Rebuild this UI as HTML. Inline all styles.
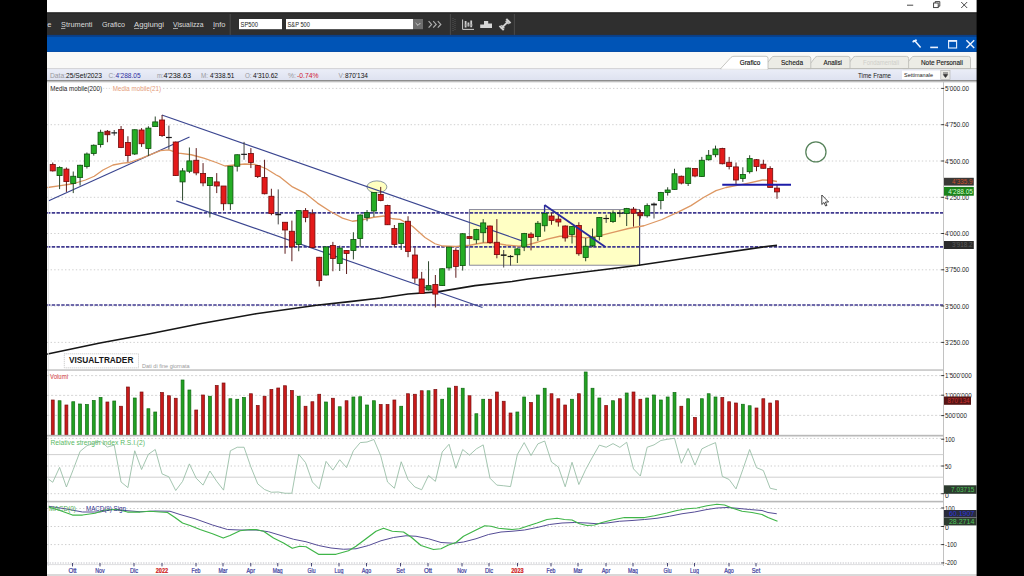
<!DOCTYPE html><html><head><meta charset="utf-8"><title>S&amp;P 500 - Visual Trader</title>
<style>html,body{margin:0;padding:0;background:#fff;}body{width:1024px;height:576px;overflow:hidden}svg{display:block}text{font-family:"Liberation Sans", sans-serif;white-space:pre}</style></head><body>
<svg width="1024" height="576" viewBox="0 0 1024 576">
<rect x="0" y="0" width="1024" height="576" fill="#ffffff"/>
<rect x="47" y="0" width="930" height="12.5" fill="#ffffff"/>
<line x1="907" y1="5.2" x2="913.2" y2="5.2" stroke="#333" stroke-width="0.9"/>
<rect x="933.6" y="3" width="4.6" height="4.6" fill="none" stroke="#333" stroke-width="0.9"/>
<path d="M935.2 3 V1.6 H939.8 V6.2 H938.2" fill="none" stroke="#333" stroke-width="0.9"/>
<path d="M961.2 2 L967.2 8 M967.2 2 L961.2 8" fill="none" stroke="#333" stroke-width="0.9"/>
<rect x="47" y="12.5" width="930" height="22.6" fill="#2f2f2f"/>
<rect x="47" y="12.4" width="930" height="0.9" fill="#1c1c1c"/>
<text x="47.3" y="27.38" font-size="8.0" fill="#dcdcdc" textLength="4.2" lengthAdjust="spacingAndGlyphs">e</text>
<text x="61" y="27.38" font-size="8.0" fill="#dcdcdc" textLength="31.5" lengthAdjust="spacingAndGlyphs">Strumenti</text>
<line x1="61" y1="28.6" x2="65.4" y2="28.4" stroke="#dcdcdc" stroke-width="0.7"/>
<text x="102" y="27.38" font-size="8.0" fill="#dcdcdc" textLength="23" lengthAdjust="spacingAndGlyphs">Grafico</text>
<text x="134" y="27.38" font-size="8.0" fill="#dcdcdc" textLength="30" lengthAdjust="spacingAndGlyphs">Aggiungi</text>
<line x1="134" y1="28.6" x2="139.2" y2="28.4" stroke="#dcdcdc" stroke-width="0.7"/>
<text x="173" y="27.38" font-size="8.0" fill="#dcdcdc" textLength="30.5" lengthAdjust="spacingAndGlyphs">Visualizza</text>
<line x1="173" y1="28.6" x2="178" y2="28.4" stroke="#dcdcdc" stroke-width="0.7"/>
<text x="213" y="27.38" font-size="8.0" fill="#dcdcdc" textLength="12.5" lengthAdjust="spacingAndGlyphs">Info</text>
<line x1="213" y1="28.6" x2="214.8" y2="28.4" stroke="#dcdcdc" stroke-width="0.7"/>
<line x1="230.2" y1="14" x2="230.2" y2="35" stroke="#4a4a4a" stroke-width="1"/>
<rect x="239" y="19" width="43" height="10.2" fill="#ffffff"/>
<text x="240.5" y="26.65" font-size="6.8" fill="#222" textLength="17.5" lengthAdjust="spacingAndGlyphs">SP500</text>
<rect x="286" y="19" width="127" height="10.2" fill="#ffffff"/>
<text x="287.5" y="26.65" font-size="6.8" fill="#222" textLength="22.5" lengthAdjust="spacingAndGlyphs">S&amp;P 500</text>
<rect x="413" y="19" width="10" height="10.2" fill="#6e6e6e"/>
<path d="M415.6 23 L418 25.4 L420.4 23" fill="none" stroke="#cfcfcf" stroke-width="1"/>
<path d="M428.6 21.2 L431.6 24.4 L428.6 27.6 M433.2 21.2 L436.2 24.4 L433.2 27.6 M437.8 21.2 L440.8 24.4 L437.8 27.6" fill="none" stroke="#adadad" stroke-width="1.2"/>
<line x1="450.4" y1="14" x2="450.4" y2="35" stroke="#4a4a4a" stroke-width="1"/>
<line x1="453" y1="18" x2="453" y2="31" stroke="#555" stroke-width="1" stroke-dasharray="1 1"/>
<line x1="455" y1="19" x2="455" y2="31" stroke="#555" stroke-width="1" stroke-dasharray="1 1"/>
<path d="M462.6 19.5 V29.4 H474" fill="none" stroke="#cfcfcf" stroke-width="1"/>
<path d="M465.6 21 V27.6 M468.4 22.4 V26.6 M471.2 20.6 V27.2" fill="none" stroke="#cfcfcf" stroke-width="1.8"/>
<path d="M464.4 25 H473" stroke="#8a8a8a" stroke-width="0.8"/>
<path d="M480.2 28 V24.4 H484 V21 H488.2 V23.4 H492 V28 Z" fill="#d6d6d6"/>
<g transform="translate(505 24.6) scale(0.86) rotate(-45) translate(-505 -24.5)" fill="#d2d2d2"><rect x="498.4" y="23.4" width="13.2" height="2.2"/><rect x="498.2" y="21" width="2.4" height="7"/><rect x="509.4" y="21" width="2.4" height="7"/><rect x="500.8" y="22" width="1.4" height="5"/><rect x="507.8" y="22" width="1.4" height="5"/></g>
<line x1="514.4" y1="14" x2="514.4" y2="35" stroke="#4a4a4a" stroke-width="1"/>
<rect x="47" y="35" width="930" height="17" fill="#0054b6"/>
<rect x="47" y="34.9" width="930" height="1.9" fill="#0b3f86"/>
<rect x="47" y="51.2" width="930" height="0.8" fill="#0a4ea6"/>
<path d="M913 41.2 L916.4 40.2 M914.6 40.6 L920.6 47.6" fill="none" stroke="#eaf2ff" stroke-width="1.5"/>
<path d="M912.6 42 L916.6 40" fill="none" stroke="#eaf2ff" stroke-width="1.6"/>
<line x1="930.2" y1="47.4" x2="938" y2="47.4" stroke="#eaf2ff" stroke-width="1.6"/>
<rect x="948.6" y="40.6" width="8" height="7.4" fill="none" stroke="#eaf2ff" stroke-width="1.1"/>
<line x1="948.6" y1="41" x2="956.6" y2="41" stroke="#eaf2ff" stroke-width="1.6"/>
<path d="M966.4 40.2 L974.2 48 M974.2 40.2 L966.4 48" fill="none" stroke="#eaf2ff" stroke-width="1.4"/>
<rect x="47" y="52" width="930" height="16.8" fill="#f9f9f7"/>
<defs><linearGradient id="lg" x1="0" y1="0" x2="0" y2="1"><stop offset="0" stop-color="#ebeef8"/><stop offset="1" stop-color="#dee2f0"/></linearGradient></defs>
<rect x="47" y="68.6" width="930" height="11.6" fill="url(#lg)"/>
<line x1="47" y1="68.6" x2="734" y2="68.6" stroke="#c8c8cc" stroke-width="0.8"/>
<path d="M903 68.6 L911.5 57.6 Q912.2 56.4 914 56.4 H968.5 Q970.5 56.4 970.5 58.4 V68.6 Z" fill="#ecece6" stroke="#b9b9b4" stroke-width="0.8"/>
<path d="M844.5 68.6 L853.0 57.6 Q853.7 56.4 855.5 56.4 H906.6 Q908.6 56.4 908.6 58.4 V68.6 Z" fill="#ecece6" stroke="#b9b9b4" stroke-width="0.8"/>
<path d="M806.5 68.6 L815.0 57.6 Q815.7 56.4 817.5 56.4 H848 Q850 56.4 850 58.4 V68.6 Z" fill="#ecece6" stroke="#b9b9b4" stroke-width="0.8"/>
<path d="M763 68.6 L771.5 57.6 Q772.2 56.4 774 56.4 H808.8 Q810.8 56.4 810.8 58.4 V68.6 Z" fill="#ecece6" stroke="#b9b9b4" stroke-width="0.8"/>
<line x1="768" y1="68.6" x2="977" y2="68.6" stroke="#b9b9b4" stroke-width="0.8"/>
<path d="M720.5 68.8 L731 57.4 Q732 56.3 734 56.3 H766 Q768 56.3 768 58.3 V69.2 Z" fill="#ffffff" stroke="#b9b9b4" stroke-width="0.8"/>
<rect x="721.5" y="68.2" width="46" height="1.2" fill="#ffffff"/>
<text x="739.8" y="65.36" font-size="7.4" fill="#111" textLength="20.5" lengthAdjust="spacingAndGlyphs" stroke="#111" stroke-width="0.18">Grafico</text>
<text x="781" y="65.36" font-size="7.4" fill="#1c1c1c" textLength="22" lengthAdjust="spacingAndGlyphs" stroke="#1c1c1c" stroke-width="0.15">Scheda</text>
<text x="823.5" y="65.36" font-size="7.4" fill="#1c1c1c" textLength="18.5" lengthAdjust="spacingAndGlyphs" stroke="#1c1c1c" stroke-width="0.15">Analisi</text>
<text x="863" y="65.36" font-size="7.4" fill="#cfcfca" textLength="36" lengthAdjust="spacingAndGlyphs">Fondamentali</text>
<text x="921" y="65.36" font-size="7.4" fill="#1c1c1c" textLength="41.8" lengthAdjust="spacingAndGlyphs" stroke="#1c1c1c" stroke-width="0.15">Note Personali</text>
<text x="858" y="77.86" font-size="7.4" fill="#222" textLength="33" lengthAdjust="spacingAndGlyphs">Time Frame</text>
<rect x="902" y="70.6" width="38.6" height="8.8" fill="#ffffff"/>
<text x="904" y="77.09" font-size="5.8" fill="#222" textLength="29" lengthAdjust="spacingAndGlyphs">Settimanale</text>
<rect x="940.8" y="70.6" width="9.2" height="8.8" fill="#e9e9e4" stroke="#b0b0ac" stroke-width="0.6"/>
<path d="M943 73 H948 M943.4 74.6 L945.5 77.4 L947.6 74.6 Z" fill="#333" stroke="#333" stroke-width="0.8"/>
<text x="50" y="78.03" font-size="7.3" fill="#9a9aa0" textLength="16" lengthAdjust="spacingAndGlyphs">Data:</text>
<text x="66" y="78.03" font-size="7.3" fill="#111" textLength="36" lengthAdjust="spacingAndGlyphs">25/Set/2023</text>
<text x="108.5" y="78.03" font-size="7.3" fill="#9a9aa0" textLength="6.5" lengthAdjust="spacingAndGlyphs">C:</text>
<text x="115.6" y="78.03" font-size="7.3" fill="#2d2da0" textLength="25" lengthAdjust="spacingAndGlyphs">4'288.05</text>
<text x="157" y="78.03" font-size="7.3" fill="#9a9aa0" textLength="6.5" lengthAdjust="spacingAndGlyphs">m:</text>
<text x="163.4" y="78.03" font-size="7.3" fill="#111" textLength="27.6" lengthAdjust="spacingAndGlyphs">4'238.63</text>
<text x="201" y="78.03" font-size="7.3" fill="#9a9aa0" textLength="7" lengthAdjust="spacingAndGlyphs">M:</text>
<text x="210" y="78.03" font-size="7.3" fill="#111" textLength="24.4" lengthAdjust="spacingAndGlyphs">4'338.51</text>
<text x="245" y="78.03" font-size="7.3" fill="#9a9aa0" textLength="6.6" lengthAdjust="spacingAndGlyphs">O:</text>
<text x="253" y="78.03" font-size="7.3" fill="#111" textLength="25" lengthAdjust="spacingAndGlyphs">4'310.62</text>
<text x="288" y="78.03" font-size="7.3" fill="#9a9aa0" textLength="8" lengthAdjust="spacingAndGlyphs">%:</text>
<text x="297" y="78.03" font-size="7.3" fill="#d02030" textLength="21.5" lengthAdjust="spacingAndGlyphs">-0.74%</text>
<text x="338.5" y="78.03" font-size="7.3" fill="#9a9aa0" textLength="6" lengthAdjust="spacingAndGlyphs">V:</text>
<text x="345" y="78.03" font-size="7.3" fill="#111" textLength="23" lengthAdjust="spacingAndGlyphs">870'134</text>
<rect x="47" y="80" width="930" height="1.6" fill="#8e8e8e"/>
<rect x="47" y="81.6" width="930" height="0.8" fill="#c8c8c8"/>
<line x1="163" y1="88.4" x2="941" y2="88.4" stroke="#d0d0d0" stroke-width="1" stroke-dasharray="1.4 2.2"/>
<line x1="47" y1="124.7" x2="941" y2="124.7" stroke="#d0d0d0" stroke-width="1" stroke-dasharray="1.4 2.2"/>
<line x1="47" y1="161" x2="941" y2="161" stroke="#d0d0d0" stroke-width="1" stroke-dasharray="1.4 2.2"/>
<line x1="47" y1="197.3" x2="941" y2="197.3" stroke="#d0d0d0" stroke-width="1" stroke-dasharray="1.4 2.2"/>
<line x1="47" y1="233.5" x2="941" y2="233.5" stroke="#d0d0d0" stroke-width="1" stroke-dasharray="1.4 2.2"/>
<line x1="47" y1="269.8" x2="941" y2="269.8" stroke="#d0d0d0" stroke-width="1" stroke-dasharray="1.4 2.2"/>
<line x1="47" y1="306" x2="941" y2="306" stroke="#d0d0d0" stroke-width="1" stroke-dasharray="1.4 2.2"/>
<line x1="47" y1="342.4" x2="941" y2="342.4" stroke="#d0d0d0" stroke-width="1" stroke-dasharray="1.4 2.2"/>
<rect x="469.4" y="209.6" width="170.2" height="55.6" fill="#ffffc4" stroke="#7c7c92" stroke-width="0.9"/>
<line x1="639.6" y1="209.6" x2="639.6" y2="265.8" stroke="#3c3c66" stroke-width="1.1"/>
<ellipse cx="376.9" cy="186.9" rx="10" ry="6" fill="#ffffc0" stroke="#6f7f8f" stroke-width="0.8"/>
<line x1="47" y1="212.9" x2="943.5" y2="212.9" stroke="#403a90" stroke-width="1.7" stroke-dasharray="3.4 1.35"/>
<line x1="47" y1="246.9" x2="943.5" y2="246.9" stroke="#403a90" stroke-width="1.7" stroke-dasharray="3.4 1.35"/>
<line x1="47" y1="305" x2="943.5" y2="305" stroke="#403a90" stroke-width="1.7" stroke-dasharray="3.4 1.35"/>
<polyline points="47.00,354.20 48.75,353.75 100.00,343.00 150.00,333.75 200.00,323.75 256.00,313.75 318.50,305.00 347.50,301.90 381.00,298.00 408.00,294.00 437.50,291.90 475.00,285.60 512.00,281.50 528.00,279.00 574.50,273.25 637.00,265.50 699.50,256.25 768.00,246.30 777.00,245.40" fill="none" stroke="#161616" stroke-width="1.6" stroke-linejoin="round"/>
<line x1="48.75" y1="200.75" x2="189.5" y2="137" stroke="#3a4590" stroke-width="1.15"/>
<line x1="161.9" y1="115" x2="522" y2="240.9" stroke="#3a4590" stroke-width="1.15"/>
<line x1="176.25" y1="200.9" x2="482.5" y2="307.5" stroke="#3a4590" stroke-width="1.15"/>
<polyline points="47.00,187.50 49.25,187.25 60.50,185.60 73.00,183.75 85.50,180.00 94.25,176.25 103.00,170.00 113.00,165.00 123.00,163.10 129.25,162.50 141.75,158.10 154.25,153.10 160.50,150.60 168.60,149.80 178.75,153.10 191.25,154.75 203.75,158.10 216.25,162.50 225.00,166.00 235.00,165.00 245.00,164.00 255.00,164.40 266.25,168.75 276.25,175.00 280.00,176.90 292.50,186.90 305.00,193.10 317.50,203.10 330.00,211.25 342.50,218.10 352.50,221.25 361.25,220.00 373.75,217.25 383.75,216.00 392.50,218.75 400.00,219.40 412.50,226.25 425.00,237.50 435.00,243.75 442.50,246.00 456.00,246.50 470.00,245.25 477.50,243.75 485.00,242.50 495.00,243.10 506.00,245.00 519.00,246.20 528.50,244.60 538.00,242.00 547.25,239.10 559.75,236.25 572.25,236.25 586.00,237.90 601.00,235.40 616.00,231.60 628.50,228.50 644.00,225.75 662.00,219.50 678.50,211.90 691.00,205.60 703.50,197.50 716.00,190.60 726.00,187.50 736.00,185.60 748.50,183.10 762.50,180.00 770.00,180.25 777.00,181.50" fill="none" stroke="#dd9762" stroke-width="1.3" stroke-linejoin="round"/>
<line x1="52.75" y1="162.5" x2="52.75" y2="171.5" stroke="#5e1c1c" stroke-width="1.0"/>
<rect x="50.20" y="164.40" width="5.1" height="6.50" fill="#e41a1a" stroke="#6e0c0c" stroke-width="0.8"/>
<line x1="59.58" y1="166.25" x2="59.58" y2="189.1" stroke="#2c472c" stroke-width="1.0"/>
<rect x="57.03" y="167.50" width="5.1" height="8.10" fill="#25ad25" stroke="#0c4f0c" stroke-width="0.8"/>
<line x1="66.41" y1="167.5" x2="66.41" y2="191.9" stroke="#5e1c1c" stroke-width="1.0"/>
<rect x="63.86" y="169.10" width="5.1" height="12.50" fill="#e41a1a" stroke="#6e0c0c" stroke-width="0.8"/>
<line x1="73.25" y1="171.5" x2="73.25" y2="193.1" stroke="#2c472c" stroke-width="1.0"/>
<rect x="70.70" y="176.25" width="5.1" height="7.25" fill="#25ad25" stroke="#0c4f0c" stroke-width="0.8"/>
<line x1="80.08" y1="164.75" x2="80.08" y2="185.6" stroke="#2c472c" stroke-width="1.0"/>
<rect x="77.53" y="165.25" width="5.1" height="12.25" fill="#25ad25" stroke="#0c4f0c" stroke-width="0.8"/>
<line x1="86.91" y1="152.5" x2="86.91" y2="168.5" stroke="#2c472c" stroke-width="1.0"/>
<rect x="84.36" y="154.00" width="5.1" height="12.50" fill="#25ad25" stroke="#0c4f0c" stroke-width="0.8"/>
<line x1="93.75" y1="144.4" x2="93.75" y2="155.6" stroke="#2c472c" stroke-width="1.0"/>
<rect x="91.20" y="145.25" width="5.1" height="8.25" fill="#25ad25" stroke="#0c4f0c" stroke-width="0.8"/>
<line x1="100.58" y1="129.75" x2="100.58" y2="147.5" stroke="#2c472c" stroke-width="1.0"/>
<rect x="98.03" y="132.25" width="5.1" height="12.35" fill="#25ad25" stroke="#0c4f0c" stroke-width="0.8"/>
<line x1="107.41" y1="130" x2="107.41" y2="142.25" stroke="#5e1c1c" stroke-width="1.0"/>
<rect x="104.86" y="131.25" width="5.1" height="3.50" fill="#b01818" stroke="#6e0c0c" stroke-width="0.8"/>
<line x1="114.24" y1="130" x2="114.24" y2="135.6" stroke="#444" stroke-width="1.0"/>
<rect x="111.34" y="132.25" width="5.8" height="1.25" fill="#1c1c1c"/>
<line x1="121.07" y1="126" x2="121.07" y2="148.1" stroke="#5e1c1c" stroke-width="1.0"/>
<rect x="118.52" y="129.60" width="5.1" height="17.90" fill="#e41a1a" stroke="#6e0c0c" stroke-width="0.8"/>
<line x1="127.91" y1="136.25" x2="127.91" y2="161.9" stroke="#5e1c1c" stroke-width="1.0"/>
<rect x="125.36" y="142.50" width="5.1" height="13.10" fill="#e41a1a" stroke="#6e0c0c" stroke-width="0.8"/>
<line x1="134.74" y1="129.4" x2="134.74" y2="155" stroke="#2c472c" stroke-width="1.0"/>
<rect x="132.19" y="129.75" width="5.1" height="24.25" fill="#25ad25" stroke="#0c4f0c" stroke-width="0.8"/>
<line x1="141.57" y1="128.1" x2="141.57" y2="146.9" stroke="#5e1c1c" stroke-width="1.0"/>
<rect x="139.02" y="130.00" width="5.1" height="13.75" fill="#e41a1a" stroke="#6e0c0c" stroke-width="0.8"/>
<line x1="148.41" y1="126.25" x2="148.41" y2="156" stroke="#2c472c" stroke-width="1.0"/>
<rect x="145.85" y="128.10" width="5.1" height="20.40" fill="#25ad25" stroke="#0c4f0c" stroke-width="0.8"/>
<line x1="155.24" y1="116.5" x2="155.24" y2="126.6" stroke="#2c472c" stroke-width="1.0"/>
<rect x="152.69" y="121.90" width="5.1" height="4.70" fill="#25ad25" stroke="#0c4f0c" stroke-width="0.8"/>
<line x1="162.07" y1="115" x2="162.07" y2="136.9" stroke="#5e1c1c" stroke-width="1.0"/>
<rect x="159.52" y="120.00" width="5.1" height="15.60" fill="#e41a1a" stroke="#6e0c0c" stroke-width="0.8"/>
<line x1="168.90" y1="125.6" x2="168.90" y2="149.4" stroke="#444" stroke-width="1.0"/>
<rect x="166.00" y="136.90" width="5.8" height="1.20" fill="#1c1c1c"/>
<line x1="175.73" y1="141.5" x2="175.73" y2="176" stroke="#5e1c1c" stroke-width="1.0"/>
<rect x="173.18" y="142.00" width="5.1" height="33.60" fill="#e41a1a" stroke="#6e0c0c" stroke-width="0.8"/>
<line x1="182.57" y1="168.1" x2="182.57" y2="200.6" stroke="#2c472c" stroke-width="1.0"/>
<rect x="180.02" y="170.90" width="5.1" height="11.00" fill="#25ad25" stroke="#0c4f0c" stroke-width="0.8"/>
<line x1="189.40" y1="147.5" x2="189.40" y2="173.1" stroke="#2c472c" stroke-width="1.0"/>
<rect x="186.85" y="160.90" width="5.1" height="10.35" fill="#25ad25" stroke="#0c4f0c" stroke-width="0.8"/>
<line x1="196.23" y1="148.1" x2="196.23" y2="175.25" stroke="#5e1c1c" stroke-width="1.0"/>
<rect x="193.68" y="160.25" width="5.1" height="12.65" fill="#e41a1a" stroke="#6e0c0c" stroke-width="0.8"/>
<line x1="203.06" y1="163.1" x2="203.06" y2="186.25" stroke="#5e1c1c" stroke-width="1.0"/>
<rect x="200.51" y="173.40" width="5.1" height="9.50" fill="#e41a1a" stroke="#6e0c0c" stroke-width="0.8"/>
<line x1="209.90" y1="177.5" x2="209.90" y2="217.5" stroke="#2c472c" stroke-width="1.0"/>
<rect x="207.35" y="177.50" width="5.1" height="8.10" fill="#25ad25" stroke="#0c4f0c" stroke-width="0.8"/>
<line x1="216.73" y1="173.1" x2="216.73" y2="193.1" stroke="#5e1c1c" stroke-width="1.0"/>
<rect x="214.18" y="181.90" width="5.1" height="4.10" fill="#e41a1a" stroke="#6e0c0c" stroke-width="0.8"/>
<line x1="223.56" y1="186" x2="223.56" y2="210.6" stroke="#5e1c1c" stroke-width="1.0"/>
<rect x="221.01" y="186.00" width="5.1" height="17.75" fill="#e41a1a" stroke="#6e0c0c" stroke-width="0.8"/>
<line x1="230.39" y1="166" x2="230.39" y2="210" stroke="#2c472c" stroke-width="1.0"/>
<rect x="227.84" y="166.25" width="5.1" height="37.50" fill="#25ad25" stroke="#0c4f0c" stroke-width="0.8"/>
<line x1="237.23" y1="154.4" x2="237.23" y2="171.5" stroke="#2c472c" stroke-width="1.0"/>
<rect x="234.68" y="154.75" width="5.1" height="11.50" fill="#25ad25" stroke="#0c4f0c" stroke-width="0.8"/>
<line x1="244.06" y1="141.9" x2="244.06" y2="159.75" stroke="#444" stroke-width="1.0"/>
<rect x="241.16" y="153.75" width="5.8" height="1.20" fill="#1c1c1c"/>
<line x1="250.89" y1="148.1" x2="250.89" y2="168.1" stroke="#5e1c1c" stroke-width="1.0"/>
<rect x="248.34" y="153.50" width="5.1" height="9.00" fill="#e41a1a" stroke="#6e0c0c" stroke-width="0.8"/>
<line x1="257.73" y1="165" x2="257.73" y2="178" stroke="#5e1c1c" stroke-width="1.0"/>
<rect x="255.18" y="165.60" width="5.1" height="11.00" fill="#e41a1a" stroke="#6e0c0c" stroke-width="0.8"/>
<line x1="264.56" y1="159.75" x2="264.56" y2="194.4" stroke="#5e1c1c" stroke-width="1.0"/>
<rect x="262.01" y="177.50" width="5.1" height="16.25" fill="#e41a1a" stroke="#6e0c0c" stroke-width="0.8"/>
<line x1="271.39" y1="188.75" x2="271.39" y2="215.25" stroke="#5e1c1c" stroke-width="1.0"/>
<rect x="268.84" y="196.25" width="5.1" height="17.25" fill="#e41a1a" stroke="#6e0c0c" stroke-width="0.8"/>
<line x1="278.22" y1="189.4" x2="278.22" y2="224.4" stroke="#444" stroke-width="1.0"/>
<rect x="275.32" y="213.75" width="5.8" height="1.50" fill="#1c1c1c"/>
<line x1="285.05" y1="222" x2="285.05" y2="253.75" stroke="#5e1c1c" stroke-width="1.0"/>
<rect x="282.50" y="222.25" width="5.1" height="7.75" fill="#e41a1a" stroke="#6e0c0c" stroke-width="0.8"/>
<line x1="291.89" y1="220.6" x2="291.89" y2="261.25" stroke="#5e1c1c" stroke-width="1.0"/>
<rect x="289.34" y="231.25" width="5.1" height="15.65" fill="#e41a1a" stroke="#6e0c0c" stroke-width="0.8"/>
<line x1="298.72" y1="210.4" x2="298.72" y2="251.25" stroke="#2c472c" stroke-width="1.0"/>
<rect x="296.17" y="210.60" width="5.1" height="33.80" fill="#25ad25" stroke="#0c4f0c" stroke-width="0.8"/>
<line x1="305.55" y1="208.1" x2="305.55" y2="222.25" stroke="#5e1c1c" stroke-width="1.0"/>
<rect x="303.00" y="210.60" width="5.1" height="6.90" fill="#e41a1a" stroke="#6e0c0c" stroke-width="0.8"/>
<line x1="312.38" y1="209.4" x2="312.38" y2="248" stroke="#5e1c1c" stroke-width="1.0"/>
<rect x="309.83" y="213.75" width="5.1" height="33.75" fill="#e41a1a" stroke="#6e0c0c" stroke-width="0.8"/>
<line x1="319.22" y1="256.9" x2="319.22" y2="286.5" stroke="#5e1c1c" stroke-width="1.0"/>
<rect x="316.67" y="257.25" width="5.1" height="23.35" fill="#e41a1a" stroke="#6e0c0c" stroke-width="0.8"/>
<line x1="326.05" y1="246.25" x2="326.05" y2="275.6" stroke="#2c472c" stroke-width="1.0"/>
<rect x="323.50" y="246.90" width="5.1" height="28.10" fill="#25ad25" stroke="#0c4f0c" stroke-width="0.8"/>
<line x1="332.88" y1="241.9" x2="332.88" y2="271.25" stroke="#5e1c1c" stroke-width="1.0"/>
<rect x="330.33" y="245.40" width="5.1" height="13.10" fill="#e41a1a" stroke="#6e0c0c" stroke-width="0.8"/>
<line x1="339.71" y1="245.6" x2="339.71" y2="271" stroke="#2c472c" stroke-width="1.0"/>
<rect x="337.16" y="248.10" width="5.1" height="15.40" fill="#25ad25" stroke="#0c4f0c" stroke-width="0.8"/>
<line x1="346.55" y1="250" x2="346.55" y2="274" stroke="#5e1c1c" stroke-width="1.0"/>
<rect x="344.00" y="250.40" width="5.1" height="3.10" fill="#e41a1a" stroke="#6e0c0c" stroke-width="0.8"/>
<line x1="353.38" y1="232.25" x2="353.38" y2="259.4" stroke="#2c472c" stroke-width="1.0"/>
<rect x="350.83" y="239.40" width="5.1" height="11.20" fill="#25ad25" stroke="#0c4f0c" stroke-width="0.8"/>
<line x1="360.21" y1="214.4" x2="360.21" y2="246.9" stroke="#2c472c" stroke-width="1.0"/>
<rect x="357.66" y="215.00" width="5.1" height="23.50" fill="#25ad25" stroke="#0c4f0c" stroke-width="0.8"/>
<line x1="367.04" y1="210" x2="367.04" y2="221.25" stroke="#2c472c" stroke-width="1.0"/>
<rect x="364.49" y="212.50" width="5.1" height="5.00" fill="#1c8a2a" stroke="#0c4f0c" stroke-width="0.8"/>
<line x1="373.88" y1="192.25" x2="373.88" y2="216.9" stroke="#2c472c" stroke-width="1.0"/>
<rect x="371.33" y="192.50" width="5.1" height="18.50" fill="#25ad25" stroke="#0c4f0c" stroke-width="0.8"/>
<line x1="380.71" y1="186.9" x2="380.71" y2="201.25" stroke="#5e1c1c" stroke-width="1.0"/>
<rect x="378.16" y="194.40" width="5.1" height="6.20" fill="#e41a1a" stroke="#6e0c0c" stroke-width="0.8"/>
<line x1="387.54" y1="204.75" x2="387.54" y2="225" stroke="#5e1c1c" stroke-width="1.0"/>
<rect x="384.99" y="205.40" width="5.1" height="19.35" fill="#e41a1a" stroke="#6e0c0c" stroke-width="0.8"/>
<line x1="394.38" y1="225" x2="394.38" y2="246.9" stroke="#5e1c1c" stroke-width="1.0"/>
<rect x="391.82" y="228.50" width="5.1" height="15.90" fill="#e41a1a" stroke="#6e0c0c" stroke-width="0.8"/>
<line x1="401.21" y1="222.9" x2="401.21" y2="250" stroke="#2c472c" stroke-width="1.0"/>
<rect x="398.66" y="223.30" width="5.1" height="20.10" fill="#25ad25" stroke="#0c4f0c" stroke-width="0.8"/>
<line x1="408.04" y1="216.25" x2="408.04" y2="257.2" stroke="#5e1c1c" stroke-width="1.0"/>
<rect x="405.49" y="221.25" width="5.1" height="30.25" fill="#e41a1a" stroke="#6e0c0c" stroke-width="0.8"/>
<line x1="414.87" y1="247.5" x2="414.87" y2="283.1" stroke="#5e1c1c" stroke-width="1.0"/>
<rect x="412.32" y="255.00" width="5.1" height="23.10" fill="#e41a1a" stroke="#6e0c0c" stroke-width="0.8"/>
<line x1="421.70" y1="271.9" x2="421.70" y2="294" stroke="#5e1c1c" stroke-width="1.0"/>
<rect x="419.15" y="279.00" width="5.1" height="14.50" fill="#e41a1a" stroke="#6e0c0c" stroke-width="0.8"/>
<line x1="428.54" y1="261.25" x2="428.54" y2="290.5" stroke="#2c472c" stroke-width="1.0"/>
<rect x="425.99" y="285.60" width="5.1" height="4.40" fill="#1c8a2a" stroke="#0c4f0c" stroke-width="0.8"/>
<line x1="435.37" y1="275" x2="435.37" y2="307.5" stroke="#5e1c1c" stroke-width="1.0"/>
<rect x="432.82" y="284.40" width="5.1" height="9.70" fill="#e41a1a" stroke="#6e0c0c" stroke-width="0.8"/>
<line x1="442.20" y1="268.25" x2="442.20" y2="286" stroke="#2c472c" stroke-width="1.0"/>
<rect x="439.65" y="268.75" width="5.1" height="16.85" fill="#25ad25" stroke="#0c4f0c" stroke-width="0.8"/>
<line x1="449.03" y1="246.9" x2="449.03" y2="270.6" stroke="#2c472c" stroke-width="1.0"/>
<rect x="446.48" y="247.10" width="5.1" height="20.80" fill="#25ad25" stroke="#0c4f0c" stroke-width="0.8"/>
<line x1="455.87" y1="248.1" x2="455.87" y2="277.75" stroke="#5e1c1c" stroke-width="1.0"/>
<rect x="453.32" y="250.30" width="5.1" height="16.20" fill="#e41a1a" stroke="#6e0c0c" stroke-width="0.8"/>
<line x1="462.70" y1="233.1" x2="462.70" y2="270.6" stroke="#2c472c" stroke-width="1.0"/>
<rect x="460.15" y="233.75" width="5.1" height="31.85" fill="#25ad25" stroke="#0c4f0c" stroke-width="0.8"/>
<line x1="469.53" y1="236.6" x2="469.53" y2="238.5" stroke="#5e1c1c" stroke-width="1.0"/>
<rect x="466.98" y="236.60" width="5.1" height="1.90" fill="#b01818" stroke="#6e0c0c" stroke-width="0.8"/>
<line x1="476.36" y1="228.75" x2="476.36" y2="243.75" stroke="#2c472c" stroke-width="1.0"/>
<rect x="473.81" y="229.60" width="5.1" height="10.15" fill="#25ad25" stroke="#0c4f0c" stroke-width="0.8"/>
<line x1="483.20" y1="219.1" x2="483.20" y2="242.5" stroke="#2c472c" stroke-width="1.0"/>
<rect x="480.65" y="222.90" width="5.1" height="9.85" fill="#25ad25" stroke="#0c4f0c" stroke-width="0.8"/>
<line x1="490.03" y1="225.5" x2="490.03" y2="243.75" stroke="#5e1c1c" stroke-width="1.0"/>
<rect x="487.48" y="226.00" width="5.1" height="16.50" fill="#e41a1a" stroke="#6e0c0c" stroke-width="0.8"/>
<line x1="496.86" y1="219.1" x2="496.86" y2="258.3" stroke="#5e1c1c" stroke-width="1.0"/>
<rect x="494.31" y="242.25" width="5.1" height="12.35" fill="#e41a1a" stroke="#6e0c0c" stroke-width="0.8"/>
<line x1="503.69" y1="250" x2="503.69" y2="267.5" stroke="#444" stroke-width="1.0"/>
<rect x="500.80" y="254.40" width="5.8" height="1.50" fill="#1c1c1c"/>
<line x1="510.53" y1="255" x2="510.53" y2="265.6" stroke="#444" stroke-width="1.0"/>
<rect x="507.63" y="255.90" width="5.8" height="1.20" fill="#1c1c1c"/>
<line x1="517.36" y1="248.3" x2="517.36" y2="263" stroke="#2c472c" stroke-width="1.0"/>
<rect x="514.81" y="248.90" width="5.1" height="5.85" fill="#25ad25" stroke="#0c4f0c" stroke-width="0.8"/>
<line x1="524.19" y1="232.9" x2="524.19" y2="251.1" stroke="#2c472c" stroke-width="1.0"/>
<rect x="521.64" y="233.50" width="5.1" height="13.40" fill="#25ad25" stroke="#0c4f0c" stroke-width="0.8"/>
<line x1="531.02" y1="232.25" x2="531.02" y2="250.4" stroke="#5e1c1c" stroke-width="1.0"/>
<rect x="528.48" y="234.10" width="5.1" height="3.40" fill="#e41a1a" stroke="#6e0c0c" stroke-width="0.8"/>
<line x1="537.86" y1="221" x2="537.86" y2="241" stroke="#2c472c" stroke-width="1.0"/>
<rect x="535.31" y="223.25" width="5.1" height="13.35" fill="#25ad25" stroke="#0c4f0c" stroke-width="0.8"/>
<line x1="544.69" y1="205.4" x2="544.69" y2="231.6" stroke="#2c472c" stroke-width="1.0"/>
<rect x="542.14" y="213.50" width="5.1" height="12.25" fill="#25ad25" stroke="#0c4f0c" stroke-width="0.8"/>
<line x1="551.52" y1="212.9" x2="551.52" y2="224.75" stroke="#5e1c1c" stroke-width="1.0"/>
<rect x="548.97" y="216.00" width="5.1" height="4.40" fill="#e41a1a" stroke="#6e0c0c" stroke-width="0.8"/>
<line x1="558.36" y1="214.75" x2="558.36" y2="226.6" stroke="#5e1c1c" stroke-width="1.0"/>
<rect x="555.81" y="219.10" width="5.1" height="2.90" fill="#e41a1a" stroke="#6e0c0c" stroke-width="0.8"/>
<line x1="565.19" y1="225.4" x2="565.19" y2="241.6" stroke="#5e1c1c" stroke-width="1.0"/>
<rect x="562.64" y="226.00" width="5.1" height="11.90" fill="#e41a1a" stroke="#6e0c0c" stroke-width="0.8"/>
<line x1="572.02" y1="226" x2="572.02" y2="243.5" stroke="#2c472c" stroke-width="1.0"/>
<rect x="569.47" y="226.60" width="5.1" height="7.90" fill="#25ad25" stroke="#0c4f0c" stroke-width="0.8"/>
<line x1="578.85" y1="222.25" x2="578.85" y2="255.75" stroke="#5e1c1c" stroke-width="1.0"/>
<rect x="576.30" y="225.40" width="5.1" height="28.35" fill="#e41a1a" stroke="#6e0c0c" stroke-width="0.8"/>
<line x1="585.68" y1="237.9" x2="585.68" y2="261.25" stroke="#2c472c" stroke-width="1.0"/>
<rect x="583.13" y="246.25" width="5.1" height="11.25" fill="#25ad25" stroke="#0c4f0c" stroke-width="0.8"/>
<line x1="592.52" y1="228.5" x2="592.52" y2="247.25" stroke="#2c472c" stroke-width="1.0"/>
<rect x="589.97" y="237.25" width="5.1" height="8.50" fill="#25ad25" stroke="#0c4f0c" stroke-width="0.8"/>
<line x1="599.35" y1="217" x2="599.35" y2="240.4" stroke="#2c472c" stroke-width="1.0"/>
<rect x="596.80" y="217.50" width="5.1" height="19.10" fill="#25ad25" stroke="#0c4f0c" stroke-width="0.8"/>
<line x1="606.18" y1="214.75" x2="606.18" y2="222.9" stroke="#444" stroke-width="1.0"/>
<rect x="603.28" y="217.90" width="5.8" height="1.20" fill="#1c1c1c"/>
<line x1="613.01" y1="210.4" x2="613.01" y2="222.9" stroke="#2c472c" stroke-width="1.0"/>
<rect x="610.47" y="213.10" width="5.1" height="8.50" fill="#25ad25" stroke="#0c4f0c" stroke-width="0.8"/>
<line x1="619.85" y1="210" x2="619.85" y2="217.25" stroke="#444" stroke-width="1.0"/>
<rect x="616.95" y="212.60" width="5.8" height="1.20" fill="#1c1c1c"/>
<line x1="626.68" y1="207.9" x2="626.68" y2="226" stroke="#2c472c" stroke-width="1.0"/>
<rect x="624.13" y="208.50" width="5.1" height="5.00" fill="#25ad25" stroke="#0c4f0c" stroke-width="0.8"/>
<line x1="633.51" y1="207" x2="633.51" y2="226.6" stroke="#5e1c1c" stroke-width="1.0"/>
<rect x="630.96" y="209.10" width="5.1" height="4.15" fill="#e41a1a" stroke="#6e0c0c" stroke-width="0.8"/>
<line x1="640.34" y1="210" x2="640.34" y2="218.5" stroke="#5e1c1c" stroke-width="1.0"/>
<rect x="637.79" y="212.60" width="5.1" height="3.15" fill="#b01818" stroke="#6e0c0c" stroke-width="0.8"/>
<line x1="647.18" y1="203.4" x2="647.18" y2="217.6" stroke="#2c472c" stroke-width="1.0"/>
<rect x="644.63" y="205.60" width="5.1" height="10.20" fill="#25ad25" stroke="#0c4f0c" stroke-width="0.8"/>
<line x1="654.01" y1="202.5" x2="654.01" y2="218.5" stroke="#444" stroke-width="1.0"/>
<rect x="651.11" y="203.60" width="5.8" height="1.80" fill="#1c1c1c"/>
<line x1="660.84" y1="191.9" x2="660.84" y2="209.4" stroke="#2c472c" stroke-width="1.0"/>
<rect x="658.29" y="192.50" width="5.1" height="8.10" fill="#25ad25" stroke="#0c4f0c" stroke-width="0.8"/>
<line x1="667.67" y1="187.25" x2="667.67" y2="195.6" stroke="#2c472c" stroke-width="1.0"/>
<rect x="665.12" y="190.00" width="5.1" height="2.50" fill="#25ad25" stroke="#0c4f0c" stroke-width="0.8"/>
<line x1="674.51" y1="168.75" x2="674.51" y2="189.75" stroke="#2c472c" stroke-width="1.0"/>
<rect x="671.96" y="173.75" width="5.1" height="15.65" fill="#25ad25" stroke="#0c4f0c" stroke-width="0.8"/>
<line x1="681.34" y1="175.6" x2="681.34" y2="184.4" stroke="#5e1c1c" stroke-width="1.0"/>
<rect x="678.79" y="176.25" width="5.1" height="6.85" fill="#e41a1a" stroke="#6e0c0c" stroke-width="0.8"/>
<line x1="688.17" y1="167.5" x2="688.17" y2="186" stroke="#2c472c" stroke-width="1.0"/>
<rect x="685.62" y="168.10" width="5.1" height="15.40" fill="#25ad25" stroke="#0c4f0c" stroke-width="0.8"/>
<line x1="695.00" y1="168" x2="695.00" y2="177.25" stroke="#5e1c1c" stroke-width="1.0"/>
<rect x="692.46" y="168.50" width="5.1" height="7.50" fill="#e41a1a" stroke="#6e0c0c" stroke-width="0.8"/>
<line x1="701.84" y1="156.9" x2="701.84" y2="177" stroke="#2c472c" stroke-width="1.0"/>
<rect x="699.29" y="160.25" width="5.1" height="16.25" fill="#25ad25" stroke="#0c4f0c" stroke-width="0.8"/>
<line x1="708.67" y1="150" x2="708.67" y2="160.6" stroke="#2c472c" stroke-width="1.0"/>
<rect x="706.12" y="155.25" width="5.1" height="4.50" fill="#25ad25" stroke="#0c4f0c" stroke-width="0.8"/>
<line x1="715.50" y1="145.6" x2="715.50" y2="157.25" stroke="#2c472c" stroke-width="1.0"/>
<rect x="712.95" y="149.00" width="5.1" height="5.75" fill="#25ad25" stroke="#0c4f0c" stroke-width="0.8"/>
<line x1="722.33" y1="147.75" x2="722.33" y2="164.4" stroke="#5e1c1c" stroke-width="1.0"/>
<rect x="719.78" y="148.40" width="5.1" height="15.35" fill="#e41a1a" stroke="#6e0c0c" stroke-width="0.8"/>
<line x1="729.17" y1="156.9" x2="729.17" y2="169.4" stroke="#5e1c1c" stroke-width="1.0"/>
<rect x="726.62" y="162.25" width="5.1" height="4.35" fill="#e41a1a" stroke="#6e0c0c" stroke-width="0.8"/>
<line x1="736.00" y1="162.5" x2="736.00" y2="184" stroke="#5e1c1c" stroke-width="1.0"/>
<rect x="733.45" y="166.90" width="5.1" height="13.10" fill="#e41a1a" stroke="#6e0c0c" stroke-width="0.8"/>
<line x1="742.83" y1="167.25" x2="742.83" y2="181.9" stroke="#2c472c" stroke-width="1.0"/>
<rect x="740.28" y="174.40" width="5.1" height="4.10" fill="#25ad25" stroke="#0c4f0c" stroke-width="0.8"/>
<line x1="749.66" y1="155.25" x2="749.66" y2="173.6" stroke="#2c472c" stroke-width="1.0"/>
<rect x="747.12" y="158.50" width="5.1" height="13.20" fill="#25ad25" stroke="#0c4f0c" stroke-width="0.8"/>
<line x1="756.50" y1="159" x2="756.50" y2="171.25" stroke="#5e1c1c" stroke-width="1.0"/>
<rect x="753.95" y="159.70" width="5.1" height="6.90" fill="#e41a1a" stroke="#6e0c0c" stroke-width="0.8"/>
<line x1="763.33" y1="159.75" x2="763.33" y2="168.5" stroke="#5e1c1c" stroke-width="1.0"/>
<rect x="760.78" y="164.20" width="5.1" height="4.10" fill="#e41a1a" stroke="#6e0c0c" stroke-width="0.8"/>
<line x1="770.16" y1="166.25" x2="770.16" y2="187.5" stroke="#5e1c1c" stroke-width="1.0"/>
<rect x="767.61" y="168.50" width="5.1" height="19.00" fill="#e41a1a" stroke="#6e0c0c" stroke-width="0.8"/>
<line x1="777.00" y1="185" x2="777.00" y2="198.75" stroke="#5e1c1c" stroke-width="1.0"/>
<rect x="774.45" y="188.10" width="5.1" height="3.80" fill="#e41a1a" stroke="#6e0c0c" stroke-width="0.8"/>
<line x1="544.5" y1="205" x2="605.4" y2="247" stroke="#2b2b9c" stroke-width="1.9"/>
<line x1="544.5" y1="205" x2="544.5" y2="213" stroke="#2b2b9c" stroke-width="1.2"/>
<line x1="722.25" y1="184.7" x2="791" y2="184.7" stroke="#1c1ca8" stroke-width="1.9"/>
<circle cx="815.9" cy="151.9" r="10.1" fill="none" stroke="#56825a" stroke-width="1.25"/>
<path d="M821.8 195 V204.5 L824 202.5 L825.6 206 L827 205.4 L825.4 202 H828.6 Z" fill="#fff" stroke="#1a1a1a" stroke-width="0.8" stroke-linejoin="round"/>
<text x="50.3" y="90.83" font-size="7.3" fill="#1a1a1a" textLength="51.7" lengthAdjust="spacingAndGlyphs">Media mobile(200)</text>
<text x="112.8" y="90.83" font-size="7.3" fill="#e39a78" textLength="48.2" lengthAdjust="spacingAndGlyphs">Media mobile(21)</text>
<line x1="103" y1="88.4" x2="112" y2="88.4" stroke="#d9d9d9" stroke-width="0.9" stroke-dasharray="1.3 1.6"/>
<rect x="64.3" y="353.8" width="74.2" height="14" fill="#ffffff" stroke="#b5b5b5" stroke-width="0.8" stroke-dasharray="1 1"/>
<text x="69" y="363.26" font-size="8.5" fill="#161616" textLength="64.4" lengthAdjust="spacingAndGlyphs" font-weight="bold">VISUALTRADER</text>
<text x="142" y="367.63" font-size="6.2" fill="#9a9a9a" textLength="47.6" lengthAdjust="spacingAndGlyphs">Dati di fine giornata</text>
<line x1="48.3" y1="82" x2="48.3" y2="566" stroke="#dcdcdc" stroke-width="0.9"/>
<line x1="943.5" y1="82" x2="943.5" y2="566" stroke="#c2c2c2" stroke-width="1"/>
<line x1="941.2" y1="88.4" x2="944.2" y2="88.4" stroke="#333" stroke-width="1"/>
<text x="945" y="90.98" font-size="6.9" fill="#1c1c1c" textLength="24" lengthAdjust="spacingAndGlyphs">5'000.00</text>
<line x1="941.2" y1="124.7" x2="944.2" y2="124.7" stroke="#333" stroke-width="1"/>
<text x="945" y="127.28" font-size="6.9" fill="#1c1c1c" textLength="24" lengthAdjust="spacingAndGlyphs">4'750.00</text>
<line x1="941.2" y1="161" x2="944.2" y2="161" stroke="#333" stroke-width="1"/>
<text x="945" y="163.58" font-size="6.9" fill="#1c1c1c" textLength="24" lengthAdjust="spacingAndGlyphs">4'500.00</text>
<line x1="941.2" y1="197.3" x2="944.2" y2="197.3" stroke="#333" stroke-width="1"/>
<text x="945" y="199.88" font-size="6.9" fill="#1c1c1c" textLength="24" lengthAdjust="spacingAndGlyphs">4'250.00</text>
<line x1="941.2" y1="233.5" x2="944.2" y2="233.5" stroke="#333" stroke-width="1"/>
<text x="945" y="236.08" font-size="6.9" fill="#1c1c1c" textLength="24" lengthAdjust="spacingAndGlyphs">4'000.00</text>
<line x1="941.2" y1="269.8" x2="944.2" y2="269.8" stroke="#333" stroke-width="1"/>
<text x="945" y="272.38" font-size="6.9" fill="#1c1c1c" textLength="24" lengthAdjust="spacingAndGlyphs">3'750.00</text>
<line x1="941.2" y1="306" x2="944.2" y2="306" stroke="#333" stroke-width="1"/>
<text x="945" y="308.58" font-size="6.9" fill="#1c1c1c" textLength="24" lengthAdjust="spacingAndGlyphs">3'500.00</text>
<line x1="941.2" y1="342.4" x2="944.2" y2="342.4" stroke="#333" stroke-width="1"/>
<text x="945" y="344.98" font-size="6.9" fill="#1c1c1c" textLength="24" lengthAdjust="spacingAndGlyphs">3'250.00</text>
<rect x="944" y="177.8" width="29.8" height="7.8" fill="#3a3836"/>
<text x="972.6" y="184.28" font-size="6.6" fill="#c8502c" textLength="20.5" lengthAdjust="spacingAndGlyphs" text-anchor="end">4'335.9</text>
<rect x="944" y="186.9" width="29.8" height="8.8" fill="#1a821a"/>
<text x="972.8" y="193.88" font-size="6.9" fill="#d8ffd0" textLength="24.5" lengthAdjust="spacingAndGlyphs" text-anchor="end">4'288.05</text>
<rect x="944" y="241" width="29.8" height="8" fill="#2b2b2b"/>
<text x="972.6" y="247.48" font-size="6.6" fill="#5c5c5c" textLength="20.5" lengthAdjust="spacingAndGlyphs" text-anchor="end">3'918.2</text>
<rect x="47" y="369.3" width="896.5" height="1.5" fill="#c2c2c2"/>
<line x1="47" y1="375.6" x2="941" y2="375.6" stroke="#d3d3d3" stroke-width="0.9" stroke-dasharray="2.2 1.8"/>
<line x1="47" y1="395.4" x2="941" y2="395.4" stroke="#d3d3d3" stroke-width="0.9" stroke-dasharray="2.2 1.8"/>
<line x1="47" y1="415.4" x2="941" y2="415.4" stroke="#d3d3d3" stroke-width="0.9" stroke-dasharray="2.2 1.8"/>
<rect x="51.30" y="400.00" width="2.9" height="35.00" fill="#c81a1a" stroke="#7a0f0f" stroke-width="0.7"/>
<rect x="58.13" y="400.75" width="2.9" height="34.25" fill="#22a122" stroke="#0f6a12" stroke-width="0.7"/>
<rect x="64.96" y="405.00" width="2.9" height="30.00" fill="#c81a1a" stroke="#7a0f0f" stroke-width="0.7"/>
<rect x="71.80" y="401.75" width="2.9" height="33.25" fill="#22a122" stroke="#0f6a12" stroke-width="0.7"/>
<rect x="78.63" y="404.00" width="2.9" height="31.00" fill="#22a122" stroke="#0f6a12" stroke-width="0.7"/>
<rect x="85.46" y="404.50" width="2.9" height="30.50" fill="#22a122" stroke="#0f6a12" stroke-width="0.7"/>
<rect x="92.30" y="400.50" width="2.9" height="34.50" fill="#22a122" stroke="#0f6a12" stroke-width="0.7"/>
<rect x="99.13" y="397.50" width="2.9" height="37.50" fill="#22a122" stroke="#0f6a12" stroke-width="0.7"/>
<rect x="105.96" y="402.00" width="2.9" height="33.00" fill="#c81a1a" stroke="#7a0f0f" stroke-width="0.7"/>
<rect x="112.79" y="401.00" width="2.9" height="34.00" fill="#22a122" stroke="#0f6a12" stroke-width="0.7"/>
<rect x="119.62" y="406.25" width="2.9" height="28.75" fill="#c81a1a" stroke="#7a0f0f" stroke-width="0.7"/>
<rect x="126.46" y="387.00" width="2.9" height="48.00" fill="#c81a1a" stroke="#7a0f0f" stroke-width="0.7"/>
<rect x="133.29" y="398.00" width="2.9" height="37.00" fill="#22a122" stroke="#0f6a12" stroke-width="0.7"/>
<rect x="140.12" y="392.00" width="2.9" height="43.00" fill="#c81a1a" stroke="#7a0f0f" stroke-width="0.7"/>
<rect x="146.96" y="408.75" width="2.9" height="26.25" fill="#22a122" stroke="#0f6a12" stroke-width="0.7"/>
<rect x="153.79" y="412.00" width="2.9" height="23.00" fill="#22a122" stroke="#0f6a12" stroke-width="0.7"/>
<rect x="160.62" y="392.50" width="2.9" height="42.50" fill="#c81a1a" stroke="#7a0f0f" stroke-width="0.7"/>
<rect x="167.45" y="395.75" width="2.9" height="39.25" fill="#c81a1a" stroke="#7a0f0f" stroke-width="0.7"/>
<rect x="174.28" y="398.25" width="2.9" height="36.75" fill="#c81a1a" stroke="#7a0f0f" stroke-width="0.7"/>
<rect x="181.12" y="380.00" width="2.9" height="55.00" fill="#22a122" stroke="#0f6a12" stroke-width="0.7"/>
<rect x="187.95" y="390.00" width="2.9" height="45.00" fill="#22a122" stroke="#0f6a12" stroke-width="0.7"/>
<rect x="194.78" y="410.00" width="2.9" height="25.00" fill="#c81a1a" stroke="#7a0f0f" stroke-width="0.7"/>
<rect x="201.62" y="395.00" width="2.9" height="40.00" fill="#c81a1a" stroke="#7a0f0f" stroke-width="0.7"/>
<rect x="208.45" y="396.25" width="2.9" height="38.75" fill="#22a122" stroke="#0f6a12" stroke-width="0.7"/>
<rect x="215.28" y="385.50" width="2.9" height="49.50" fill="#c81a1a" stroke="#7a0f0f" stroke-width="0.7"/>
<rect x="222.11" y="383.00" width="2.9" height="52.00" fill="#c81a1a" stroke="#7a0f0f" stroke-width="0.7"/>
<rect x="228.94" y="398.75" width="2.9" height="36.25" fill="#22a122" stroke="#0f6a12" stroke-width="0.7"/>
<rect x="235.78" y="399.25" width="2.9" height="35.75" fill="#22a122" stroke="#0f6a12" stroke-width="0.7"/>
<rect x="242.61" y="397.50" width="2.9" height="37.50" fill="#22a122" stroke="#0f6a12" stroke-width="0.7"/>
<rect x="249.44" y="393.75" width="2.9" height="41.25" fill="#c81a1a" stroke="#7a0f0f" stroke-width="0.7"/>
<rect x="256.28" y="405.50" width="2.9" height="29.50" fill="#c81a1a" stroke="#7a0f0f" stroke-width="0.7"/>
<rect x="263.11" y="396.25" width="2.9" height="38.75" fill="#c81a1a" stroke="#7a0f0f" stroke-width="0.7"/>
<rect x="269.94" y="389.50" width="2.9" height="45.50" fill="#c81a1a" stroke="#7a0f0f" stroke-width="0.7"/>
<rect x="276.77" y="388.00" width="2.9" height="47.00" fill="#c81a1a" stroke="#7a0f0f" stroke-width="0.7"/>
<rect x="283.60" y="385.75" width="2.9" height="49.25" fill="#c81a1a" stroke="#7a0f0f" stroke-width="0.7"/>
<rect x="290.44" y="390.50" width="2.9" height="44.50" fill="#c81a1a" stroke="#7a0f0f" stroke-width="0.7"/>
<rect x="297.27" y="396.25" width="2.9" height="38.75" fill="#22a122" stroke="#0f6a12" stroke-width="0.7"/>
<rect x="304.10" y="406.25" width="2.9" height="28.75" fill="#c81a1a" stroke="#7a0f0f" stroke-width="0.7"/>
<rect x="310.94" y="401.75" width="2.9" height="33.25" fill="#c81a1a" stroke="#7a0f0f" stroke-width="0.7"/>
<rect x="317.77" y="394.25" width="2.9" height="40.75" fill="#c81a1a" stroke="#7a0f0f" stroke-width="0.7"/>
<rect x="324.60" y="402.00" width="2.9" height="33.00" fill="#22a122" stroke="#0f6a12" stroke-width="0.7"/>
<rect x="331.43" y="398.25" width="2.9" height="36.75" fill="#c81a1a" stroke="#7a0f0f" stroke-width="0.7"/>
<rect x="338.26" y="406.75" width="2.9" height="28.25" fill="#22a122" stroke="#0f6a12" stroke-width="0.7"/>
<rect x="345.10" y="400.75" width="2.9" height="34.25" fill="#c81a1a" stroke="#7a0f0f" stroke-width="0.7"/>
<rect x="351.93" y="397.00" width="2.9" height="38.00" fill="#22a122" stroke="#0f6a12" stroke-width="0.7"/>
<rect x="358.76" y="396.75" width="2.9" height="38.25" fill="#22a122" stroke="#0f6a12" stroke-width="0.7"/>
<rect x="365.59" y="405.00" width="2.9" height="30.00" fill="#22a122" stroke="#0f6a12" stroke-width="0.7"/>
<rect x="372.43" y="400.75" width="2.9" height="34.25" fill="#22a122" stroke="#0f6a12" stroke-width="0.7"/>
<rect x="379.26" y="404.50" width="2.9" height="30.50" fill="#c81a1a" stroke="#7a0f0f" stroke-width="0.7"/>
<rect x="386.09" y="404.50" width="2.9" height="30.50" fill="#c81a1a" stroke="#7a0f0f" stroke-width="0.7"/>
<rect x="392.93" y="400.00" width="2.9" height="35.00" fill="#c81a1a" stroke="#7a0f0f" stroke-width="0.7"/>
<rect x="399.76" y="406.25" width="2.9" height="28.75" fill="#22a122" stroke="#0f6a12" stroke-width="0.7"/>
<rect x="406.59" y="393.75" width="2.9" height="41.25" fill="#c81a1a" stroke="#7a0f0f" stroke-width="0.7"/>
<rect x="413.42" y="394.25" width="2.9" height="40.75" fill="#c81a1a" stroke="#7a0f0f" stroke-width="0.7"/>
<rect x="420.25" y="390.75" width="2.9" height="44.25" fill="#c81a1a" stroke="#7a0f0f" stroke-width="0.7"/>
<rect x="427.09" y="390.75" width="2.9" height="44.25" fill="#22a122" stroke="#0f6a12" stroke-width="0.7"/>
<rect x="433.92" y="389.50" width="2.9" height="45.50" fill="#c81a1a" stroke="#7a0f0f" stroke-width="0.7"/>
<rect x="440.75" y="399.25" width="2.9" height="35.75" fill="#22a122" stroke="#0f6a12" stroke-width="0.7"/>
<rect x="447.58" y="388.00" width="2.9" height="47.00" fill="#22a122" stroke="#0f6a12" stroke-width="0.7"/>
<rect x="454.42" y="386.25" width="2.9" height="48.75" fill="#c81a1a" stroke="#7a0f0f" stroke-width="0.7"/>
<rect x="461.25" y="388.25" width="2.9" height="46.75" fill="#22a122" stroke="#0f6a12" stroke-width="0.7"/>
<rect x="468.08" y="395.75" width="2.9" height="39.25" fill="#c81a1a" stroke="#7a0f0f" stroke-width="0.7"/>
<rect x="474.91" y="413.75" width="2.9" height="21.25" fill="#22a122" stroke="#0f6a12" stroke-width="0.7"/>
<rect x="481.75" y="399.25" width="2.9" height="35.75" fill="#22a122" stroke="#0f6a12" stroke-width="0.7"/>
<rect x="488.58" y="399.25" width="2.9" height="35.75" fill="#c81a1a" stroke="#7a0f0f" stroke-width="0.7"/>
<rect x="495.41" y="392.00" width="2.9" height="43.00" fill="#c81a1a" stroke="#7a0f0f" stroke-width="0.7"/>
<rect x="502.25" y="401.25" width="2.9" height="33.75" fill="#c81a1a" stroke="#7a0f0f" stroke-width="0.7"/>
<rect x="509.08" y="413.00" width="2.9" height="22.00" fill="#c81a1a" stroke="#7a0f0f" stroke-width="0.7"/>
<rect x="515.91" y="412.00" width="2.9" height="23.00" fill="#22a122" stroke="#0f6a12" stroke-width="0.7"/>
<rect x="522.74" y="397.00" width="2.9" height="38.00" fill="#22a122" stroke="#0f6a12" stroke-width="0.7"/>
<rect x="529.57" y="402.50" width="2.9" height="32.50" fill="#c81a1a" stroke="#7a0f0f" stroke-width="0.7"/>
<rect x="536.41" y="395.00" width="2.9" height="40.00" fill="#22a122" stroke="#0f6a12" stroke-width="0.7"/>
<rect x="543.24" y="388.25" width="2.9" height="46.75" fill="#22a122" stroke="#0f6a12" stroke-width="0.7"/>
<rect x="550.07" y="393.75" width="2.9" height="41.25" fill="#c81a1a" stroke="#7a0f0f" stroke-width="0.7"/>
<rect x="556.90" y="398.75" width="2.9" height="36.25" fill="#c81a1a" stroke="#7a0f0f" stroke-width="0.7"/>
<rect x="563.74" y="405.00" width="2.9" height="30.00" fill="#c81a1a" stroke="#7a0f0f" stroke-width="0.7"/>
<rect x="570.57" y="399.25" width="2.9" height="35.75" fill="#22a122" stroke="#0f6a12" stroke-width="0.7"/>
<rect x="577.40" y="393.75" width="2.9" height="41.25" fill="#c81a1a" stroke="#7a0f0f" stroke-width="0.7"/>
<rect x="584.23" y="372.00" width="2.9" height="63.00" fill="#22a122" stroke="#0f6a12" stroke-width="0.7"/>
<rect x="591.07" y="388.25" width="2.9" height="46.75" fill="#22a122" stroke="#0f6a12" stroke-width="0.7"/>
<rect x="597.90" y="398.00" width="2.9" height="37.00" fill="#22a122" stroke="#0f6a12" stroke-width="0.7"/>
<rect x="604.73" y="405.50" width="2.9" height="29.50" fill="#c81a1a" stroke="#7a0f0f" stroke-width="0.7"/>
<rect x="611.56" y="400.75" width="2.9" height="34.25" fill="#22a122" stroke="#0f6a12" stroke-width="0.7"/>
<rect x="618.40" y="398.75" width="2.9" height="36.25" fill="#c81a1a" stroke="#7a0f0f" stroke-width="0.7"/>
<rect x="625.23" y="393.00" width="2.9" height="42.00" fill="#22a122" stroke="#0f6a12" stroke-width="0.7"/>
<rect x="632.06" y="392.00" width="2.9" height="43.00" fill="#c81a1a" stroke="#7a0f0f" stroke-width="0.7"/>
<rect x="638.89" y="399.25" width="2.9" height="35.75" fill="#c81a1a" stroke="#7a0f0f" stroke-width="0.7"/>
<rect x="645.73" y="398.00" width="2.9" height="37.00" fill="#22a122" stroke="#0f6a12" stroke-width="0.7"/>
<rect x="652.56" y="395.00" width="2.9" height="40.00" fill="#22a122" stroke="#0f6a12" stroke-width="0.7"/>
<rect x="659.39" y="400.00" width="2.9" height="35.00" fill="#22a122" stroke="#0f6a12" stroke-width="0.7"/>
<rect x="666.22" y="397.00" width="2.9" height="38.00" fill="#22a122" stroke="#0f6a12" stroke-width="0.7"/>
<rect x="673.06" y="392.50" width="2.9" height="42.50" fill="#22a122" stroke="#0f6a12" stroke-width="0.7"/>
<rect x="679.89" y="406.25" width="2.9" height="28.75" fill="#c81a1a" stroke="#7a0f0f" stroke-width="0.7"/>
<rect x="686.72" y="398.75" width="2.9" height="36.25" fill="#22a122" stroke="#0f6a12" stroke-width="0.7"/>
<rect x="693.55" y="417.50" width="2.9" height="17.50" fill="#c81a1a" stroke="#7a0f0f" stroke-width="0.7"/>
<rect x="700.39" y="398.75" width="2.9" height="36.25" fill="#22a122" stroke="#0f6a12" stroke-width="0.7"/>
<rect x="707.22" y="393.75" width="2.9" height="41.25" fill="#22a122" stroke="#0f6a12" stroke-width="0.7"/>
<rect x="714.05" y="397.00" width="2.9" height="38.00" fill="#22a122" stroke="#0f6a12" stroke-width="0.7"/>
<rect x="720.88" y="397.50" width="2.9" height="37.50" fill="#c81a1a" stroke="#7a0f0f" stroke-width="0.7"/>
<rect x="727.72" y="401.75" width="2.9" height="33.25" fill="#c81a1a" stroke="#7a0f0f" stroke-width="0.7"/>
<rect x="734.55" y="403.00" width="2.9" height="32.00" fill="#c81a1a" stroke="#7a0f0f" stroke-width="0.7"/>
<rect x="741.38" y="404.25" width="2.9" height="30.75" fill="#22a122" stroke="#0f6a12" stroke-width="0.7"/>
<rect x="748.21" y="405.75" width="2.9" height="29.25" fill="#22a122" stroke="#0f6a12" stroke-width="0.7"/>
<rect x="755.05" y="408.00" width="2.9" height="27.00" fill="#c81a1a" stroke="#7a0f0f" stroke-width="0.7"/>
<rect x="761.88" y="398.75" width="2.9" height="36.25" fill="#c81a1a" stroke="#7a0f0f" stroke-width="0.7"/>
<rect x="768.71" y="403.00" width="2.9" height="32.00" fill="#c81a1a" stroke="#7a0f0f" stroke-width="0.7"/>
<rect x="775.54" y="400.75" width="2.9" height="34.25" fill="#c81a1a" stroke="#7a0f0f" stroke-width="0.7"/>
<text x="50" y="379.36" font-size="7.1" fill="#d43c3c" textLength="18" lengthAdjust="spacingAndGlyphs">Volumi</text>
<line x1="941.2" y1="375.6" x2="944.2" y2="375.6" stroke="#333" stroke-width="1"/>
<text x="945" y="378.18" font-size="6.9" fill="#1c1c1c" textLength="26.6" lengthAdjust="spacingAndGlyphs">1'500'000</text>
<line x1="941.2" y1="395.2" x2="944.2" y2="395.2" stroke="#333" stroke-width="1"/>
<text x="945" y="397.78" font-size="6.9" fill="#1c1c1c" textLength="26.6" lengthAdjust="spacingAndGlyphs">1'000'000</text>
<line x1="941.2" y1="415.6" x2="944.2" y2="415.6" stroke="#333" stroke-width="1"/>
<text x="945" y="418.18" font-size="6.9" fill="#1c1c1c" textLength="22" lengthAdjust="spacingAndGlyphs">500'000</text>
<rect x="944" y="396.5" width="27" height="8.3" fill="#561414"/>
<text x="969.6" y="403.14" font-size="6.5" fill="#c83232" textLength="22" lengthAdjust="spacingAndGlyphs" text-anchor="end">870'134</text>
<rect x="47" y="434.8" width="896.5" height="1.7" fill="#b9b9b9"/>
<line x1="47" y1="438.4" x2="941" y2="438.4" stroke="#cdcdcd" stroke-width="1" stroke-dasharray="1.4 2.2"/>
<line x1="47" y1="466" x2="941" y2="466" stroke="#cdcdcd" stroke-width="1" stroke-dasharray="1.4 2.2"/>
<line x1="47" y1="493.7" x2="941" y2="493.7" stroke="#cdcdcd" stroke-width="1" stroke-dasharray="1.4 2.2"/>
<line x1="47" y1="454.6" x2="943.5" y2="454.6" stroke="#cbcbcb" stroke-width="0.9"/>
<line x1="47" y1="477.2" x2="943.5" y2="477.2" stroke="#cbcbcb" stroke-width="0.9"/>
<polyline points="48.60,479.25 52.75,482.25 59.58,467.38 66.41,487.00 73.25,469.50 80.08,451.38 86.91,445.75 93.75,443.25 100.58,441.38 107.41,447.00 114.24,445.12 121.07,482.00 127.91,487.62 134.74,450.75 141.57,469.50 148.41,454.25 155.24,449.50 162.07,473.88 168.90,476.88 175.73,490.50 182.57,481.38 189.40,463.88 196.23,478.25 203.06,485.12 209.90,471.00 216.73,481.38 223.56,490.12 230.39,450.75 237.23,447.25 244.06,447.25 250.89,467.00 257.73,483.88 264.56,489.50 271.39,492.25 278.22,492.00 285.05,493.25 291.89,493.25 298.72,454.25 305.55,462.62 312.38,482.00 319.22,488.88 326.05,461.38 332.88,470.12 339.71,459.75 346.55,467.62 353.38,450.75 360.21,442.62 367.04,442.00 373.88,439.50 380.71,455.75 387.54,482.00 394.38,488.25 401.21,461.75 408.04,479.62 414.87,487.00 421.70,489.75 428.54,475.50 435.37,481.38 442.20,452.00 449.03,444.25 455.87,468.25 462.70,449.50 469.53,455.12 476.36,448.88 483.20,444.88 490.03,478.25 496.86,485.12 503.69,485.75 510.53,486.62 517.36,454.50 524.19,442.62 531.02,455.50 537.86,443.88 544.69,441.00 551.52,462.00 558.36,467.00 565.19,486.75 572.02,462.25 578.85,484.50 585.68,469.50 592.52,457.00 599.35,445.12 606.18,447.25 613.01,443.62 619.85,447.38 626.68,442.25 633.51,468.88 640.34,476.00 647.18,447.25 654.01,444.88 660.84,440.50 667.67,439.25 674.51,438.25 681.34,463.25 688.17,448.50 695.00,465.12 701.84,448.88 708.67,445.50 715.50,442.62 722.33,476.38 729.17,479.50 736.00,488.88 742.83,469.50 749.66,449.50 756.50,467.62 763.33,470.50 770.16,488.25 777.00,489.75" fill="none" stroke="#94bba2" stroke-width="0.85" stroke-linejoin="round"/>
<text x="50.5" y="444.78" font-size="6.9" fill="#58b862" textLength="94.5" lengthAdjust="spacingAndGlyphs">Relative strength index R.S.I.(2)</text>
<line x1="941.2" y1="439.2" x2="944.2" y2="439.2" stroke="#333" stroke-width="1"/>
<text x="945" y="441.78" font-size="6.9" fill="#1c1c1c" textLength="9.8" lengthAdjust="spacingAndGlyphs">100</text>
<line x1="941.2" y1="466" x2="944.2" y2="466" stroke="#333" stroke-width="1"/>
<text x="945" y="468.58" font-size="6.9" fill="#1c1c1c" textLength="6.4" lengthAdjust="spacingAndGlyphs">50</text>
<line x1="941.2" y1="493.7" x2="944.2" y2="493.7" stroke="#333" stroke-width="1"/>
<text x="945" y="497.68" font-size="6.9" fill="#1c1c1c">0</text>
<rect x="944" y="485.3" width="32.5" height="8.5" fill="#2c3a2e"/>
<text x="974.4" y="492.15" font-size="6.8" fill="#4fc45a" textLength="23.4" lengthAdjust="spacingAndGlyphs" text-anchor="end">7.03715</text>
<rect x="47" y="500.8" width="896.5" height="1.6" fill="#b9b9b9"/>
<line x1="47" y1="508.5" x2="941" y2="508.5" stroke="#cdcdcd" stroke-width="1" stroke-dasharray="1.4 2.2"/>
<line x1="47" y1="526.5" x2="941" y2="526.5" stroke="#cdcdcd" stroke-width="1" stroke-dasharray="1.4 2.2"/>
<line x1="47" y1="544.6" x2="941" y2="544.6" stroke="#cdcdcd" stroke-width="1" stroke-dasharray="1.4 2.2"/>
<polyline points="48.75,506.25 65.00,508.75 82.50,512.00 100.00,512.00 112.50,509.50 125.00,510.50 140.00,511.75 155.00,511.00 170.00,511.25 180.00,514.50 195.00,518.75 212.50,525.00 227.50,529.50 240.00,530.00 256.00,530.00 268.50,531.75 281.00,535.50 293.50,539.25 306.00,541.75 318.50,545.50 331.00,548.00 343.50,549.25 356.00,548.75 368.50,545.50 381.00,540.75 393.50,537.50 406.00,535.75 416.00,536.25 428.50,538.75 441.00,542.50 453.50,543.25 463.50,542.00 476.00,538.75 488.50,534.50 501.00,532.00 512.00,531.25 524.50,530.00 537.00,527.50 549.50,524.50 562.00,523.00 574.50,522.50 587.00,523.00 597.00,523.75 607.00,523.00 619.50,521.25 632.00,520.50 644.50,519.50 657.00,518.25 669.50,516.25 682.00,513.75 694.50,512.00 707.00,509.50 717.00,508.00 727.00,507.50 737.00,508.25 749.50,509.50 762.00,510.50 768.00,512.50 776.75,513.75" fill="none" stroke="#554c96" stroke-width="1.0" stroke-linejoin="round"/>
<polyline points="48.75,507.00 60.00,510.50 72.50,515.00 82.50,515.00 95.00,513.25 105.00,510.00 117.50,509.50 127.50,512.00 140.00,512.00 150.00,511.25 160.00,512.00 167.50,512.50 175.00,517.50 182.50,523.00 190.00,525.50 200.00,529.50 212.50,533.75 223.25,538.00 230.00,535.50 240.00,530.75 250.00,529.50 256.00,529.50 263.50,531.25 273.50,538.00 283.50,543.00 292.25,548.25 299.75,546.25 306.00,546.75 318.50,554.25 336.00,554.25 348.50,550.75 356.00,546.25 366.00,538.75 376.00,531.25 383.50,528.25 392.25,531.25 403.50,532.00 411.00,537.00 421.00,545.50 433.50,549.50 441.00,548.75 448.50,545.00 456.00,542.50 463.50,536.25 476.00,530.00 484.75,525.75 491.00,526.25 498.50,528.25 512.00,529.50 519.50,528.75 527.00,526.25 537.00,523.00 547.00,519.50 557.00,518.25 564.50,519.50 572.00,520.00 579.50,523.75 587.00,525.50 594.50,525.00 602.00,522.50 612.00,520.00 624.50,517.50 634.50,517.50 644.50,517.50 654.50,515.75 667.00,513.00 677.00,510.50 687.00,508.75 697.00,508.00 707.00,505.75 717.00,504.25 724.50,505.00 732.00,508.00 742.00,511.25 752.00,512.50 762.00,514.50 768.00,517.50 777.50,521.25" fill="none" stroke="#3fb548" stroke-width="1.25" stroke-linejoin="round"/>
<text x="49" y="510.59" font-size="7.2" fill="#4fae58" textLength="27" lengthAdjust="spacingAndGlyphs">MACD(0)</text>
<text x="86" y="510.59" font-size="7.2" fill="#2e2e8c" textLength="40" lengthAdjust="spacingAndGlyphs">MACD(9) Sign</text>
<line x1="941.2" y1="508" x2="944.2" y2="508" stroke="#333" stroke-width="1"/>
<text x="945" y="510.58" font-size="6.9" fill="#1c1c1c" textLength="9.8" lengthAdjust="spacingAndGlyphs">100</text>
<line x1="941.2" y1="526.5" x2="944.2" y2="526.5" stroke="#333" stroke-width="1"/>
<text x="945" y="530.08" font-size="6.9" fill="#1c1c1c">0</text>
<line x1="941.2" y1="544.6" x2="944.2" y2="544.6" stroke="#333" stroke-width="1"/>
<text x="945" y="547.18" font-size="6.9" fill="#1c1c1c" textLength="11.8" lengthAdjust="spacingAndGlyphs">-100</text>
<line x1="941.2" y1="562.9" x2="944.2" y2="562.9" stroke="#333" stroke-width="1"/>
<text x="945" y="565.48" font-size="6.9" fill="#1c1c1c" textLength="11.8" lengthAdjust="spacingAndGlyphs">-200</text>
<rect x="944" y="510" width="32.5" height="7.6" fill="#2a2c3c"/>
<text x="974.4" y="516.35" font-size="6.8" fill="#2a35d8" textLength="25.5" lengthAdjust="spacingAndGlyphs" text-anchor="end">60.1907</text>
<rect x="944" y="517.8" width="32.5" height="7.6" fill="#2c3a2e"/>
<text x="974.4" y="524.15" font-size="6.8" fill="#4fc45a" textLength="25.5" lengthAdjust="spacingAndGlyphs" text-anchor="end">28.2714</text>
<line x1="47" y1="563" x2="943.5" y2="563" stroke="#b8b8c0" stroke-width="0.9" stroke-dasharray="1.3 1.3"/>
<line x1="47" y1="564.6" x2="943.5" y2="564.6" stroke="#d4d4d8" stroke-width="0.8"/>
<line x1="72.5" y1="563" x2="72.5" y2="566.4" stroke="#333366" stroke-width="0.9"/>
<text x="72.5" y="573.38" font-size="6.9" fill="#3a3a9c" textLength="8.2" lengthAdjust="spacingAndGlyphs" text-anchor="middle" stroke="#3a3a9c" stroke-width="0.22">Ott</text>
<line x1="100" y1="563" x2="100" y2="566.4" stroke="#333366" stroke-width="0.9"/>
<text x="100" y="573.38" font-size="6.9" fill="#3a3a9c" textLength="9.4" lengthAdjust="spacingAndGlyphs" text-anchor="middle" stroke="#3a3a9c" stroke-width="0.22">Nov</text>
<line x1="134" y1="563" x2="134" y2="566.4" stroke="#333366" stroke-width="0.9"/>
<text x="134" y="573.38" font-size="6.9" fill="#3a3a9c" textLength="8.2" lengthAdjust="spacingAndGlyphs" text-anchor="middle" stroke="#3a3a9c" stroke-width="0.22">Dic</text>
<line x1="162" y1="563" x2="162" y2="566.4" stroke="#333366" stroke-width="0.9"/>
<text x="162" y="573.38" font-size="6.9" fill="#d02020" textLength="12.5" lengthAdjust="spacingAndGlyphs" font-weight="bold" text-anchor="middle" stroke="#d02020" stroke-width="0.22">2022</text>
<line x1="196" y1="563" x2="196" y2="566.4" stroke="#333366" stroke-width="0.9"/>
<text x="196" y="573.38" font-size="6.9" fill="#3a3a9c" textLength="9" lengthAdjust="spacingAndGlyphs" text-anchor="middle" stroke="#3a3a9c" stroke-width="0.22">Feb</text>
<line x1="223" y1="563" x2="223" y2="566.4" stroke="#333366" stroke-width="0.9"/>
<text x="223" y="573.38" font-size="6.9" fill="#3a3a9c" textLength="9" lengthAdjust="spacingAndGlyphs" text-anchor="middle" stroke="#3a3a9c" stroke-width="0.22">Mar</text>
<line x1="250.75" y1="563" x2="250.75" y2="566.4" stroke="#333366" stroke-width="0.9"/>
<text x="250.75" y="573.38" font-size="6.9" fill="#3a3a9c" textLength="8.6" lengthAdjust="spacingAndGlyphs" text-anchor="middle" stroke="#3a3a9c" stroke-width="0.22">Apr</text>
<line x1="277.75" y1="563" x2="277.75" y2="566.4" stroke="#333366" stroke-width="0.9"/>
<text x="277.75" y="573.38" font-size="6.9" fill="#3a3a9c" textLength="9.8" lengthAdjust="spacingAndGlyphs" text-anchor="middle" stroke="#3a3a9c" stroke-width="0.22">Mag</text>
<line x1="311.5" y1="563" x2="311.5" y2="566.4" stroke="#333366" stroke-width="0.9"/>
<text x="311.5" y="573.38" font-size="6.9" fill="#3a3a9c" textLength="8" lengthAdjust="spacingAndGlyphs" text-anchor="middle" stroke="#3a3a9c" stroke-width="0.22">Giu</text>
<line x1="339" y1="563" x2="339" y2="566.4" stroke="#333366" stroke-width="0.9"/>
<text x="339" y="573.38" font-size="6.9" fill="#3a3a9c" textLength="8.8" lengthAdjust="spacingAndGlyphs" text-anchor="middle" stroke="#3a3a9c" stroke-width="0.22">Lug</text>
<line x1="366.5" y1="563" x2="366.5" y2="566.4" stroke="#333366" stroke-width="0.9"/>
<text x="366.5" y="573.38" font-size="6.9" fill="#3a3a9c" textLength="9.6" lengthAdjust="spacingAndGlyphs" text-anchor="middle" stroke="#3a3a9c" stroke-width="0.22">Ago</text>
<line x1="400.5" y1="563" x2="400.5" y2="566.4" stroke="#333366" stroke-width="0.9"/>
<text x="400.5" y="573.38" font-size="6.9" fill="#3a3a9c" textLength="8.6" lengthAdjust="spacingAndGlyphs" text-anchor="middle" stroke="#3a3a9c" stroke-width="0.22">Set</text>
<line x1="428" y1="563" x2="428" y2="566.4" stroke="#333366" stroke-width="0.9"/>
<text x="428" y="573.38" font-size="6.9" fill="#3a3a9c" textLength="8.2" lengthAdjust="spacingAndGlyphs" text-anchor="middle" stroke="#3a3a9c" stroke-width="0.22">Ott</text>
<line x1="462" y1="563" x2="462" y2="566.4" stroke="#333366" stroke-width="0.9"/>
<text x="462" y="573.38" font-size="6.9" fill="#3a3a9c" textLength="9.4" lengthAdjust="spacingAndGlyphs" text-anchor="middle" stroke="#3a3a9c" stroke-width="0.22">Nov</text>
<line x1="489" y1="563" x2="489" y2="566.4" stroke="#333366" stroke-width="0.9"/>
<text x="489" y="573.38" font-size="6.9" fill="#3a3a9c" textLength="8.2" lengthAdjust="spacingAndGlyphs" text-anchor="middle" stroke="#3a3a9c" stroke-width="0.22">Dic</text>
<line x1="517.5" y1="563" x2="517.5" y2="566.4" stroke="#333366" stroke-width="0.9"/>
<text x="517.5" y="573.38" font-size="6.9" fill="#d02020" textLength="12.5" lengthAdjust="spacingAndGlyphs" font-weight="bold" text-anchor="middle" stroke="#d02020" stroke-width="0.22">2023</text>
<line x1="551" y1="563" x2="551" y2="566.4" stroke="#333366" stroke-width="0.9"/>
<text x="551" y="573.38" font-size="6.9" fill="#3a3a9c" textLength="9" lengthAdjust="spacingAndGlyphs" text-anchor="middle" stroke="#3a3a9c" stroke-width="0.22">Feb</text>
<line x1="578" y1="563" x2="578" y2="566.4" stroke="#333366" stroke-width="0.9"/>
<text x="578" y="573.38" font-size="6.9" fill="#3a3a9c" textLength="9" lengthAdjust="spacingAndGlyphs" text-anchor="middle" stroke="#3a3a9c" stroke-width="0.22">Mar</text>
<line x1="606" y1="563" x2="606" y2="566.4" stroke="#333366" stroke-width="0.9"/>
<text x="606" y="573.38" font-size="6.9" fill="#3a3a9c" textLength="8.6" lengthAdjust="spacingAndGlyphs" text-anchor="middle" stroke="#3a3a9c" stroke-width="0.22">Apr</text>
<line x1="633" y1="563" x2="633" y2="566.4" stroke="#333366" stroke-width="0.9"/>
<text x="633" y="573.38" font-size="6.9" fill="#3a3a9c" textLength="9.8" lengthAdjust="spacingAndGlyphs" text-anchor="middle" stroke="#3a3a9c" stroke-width="0.22">Mag</text>
<line x1="667.5" y1="563" x2="667.5" y2="566.4" stroke="#333366" stroke-width="0.9"/>
<text x="667.5" y="573.38" font-size="6.9" fill="#3a3a9c" textLength="8" lengthAdjust="spacingAndGlyphs" text-anchor="middle" stroke="#3a3a9c" stroke-width="0.22">Giu</text>
<line x1="694.5" y1="563" x2="694.5" y2="566.4" stroke="#333366" stroke-width="0.9"/>
<text x="694.5" y="573.38" font-size="6.9" fill="#3a3a9c" textLength="8.8" lengthAdjust="spacingAndGlyphs" text-anchor="middle" stroke="#3a3a9c" stroke-width="0.22">Lug</text>
<line x1="729" y1="563" x2="729" y2="566.4" stroke="#333366" stroke-width="0.9"/>
<text x="729" y="573.38" font-size="6.9" fill="#3a3a9c" textLength="9.6" lengthAdjust="spacingAndGlyphs" text-anchor="middle" stroke="#3a3a9c" stroke-width="0.22">Ago</text>
<line x1="756" y1="563" x2="756" y2="566.4" stroke="#333366" stroke-width="0.9"/>
<text x="756" y="573.38" font-size="6.9" fill="#3a3a9c" textLength="8.6" lengthAdjust="spacingAndGlyphs" text-anchor="middle" stroke="#3a3a9c" stroke-width="0.22">Set</text>
<rect x="47" y="574" width="930" height="2" fill="#d9d9d9"/>
<rect x="0" y="0" width="47" height="576" fill="#000000"/>
<rect x="976.6" y="0" width="47.4" height="576" fill="#000000"/>
</svg></body></html>
